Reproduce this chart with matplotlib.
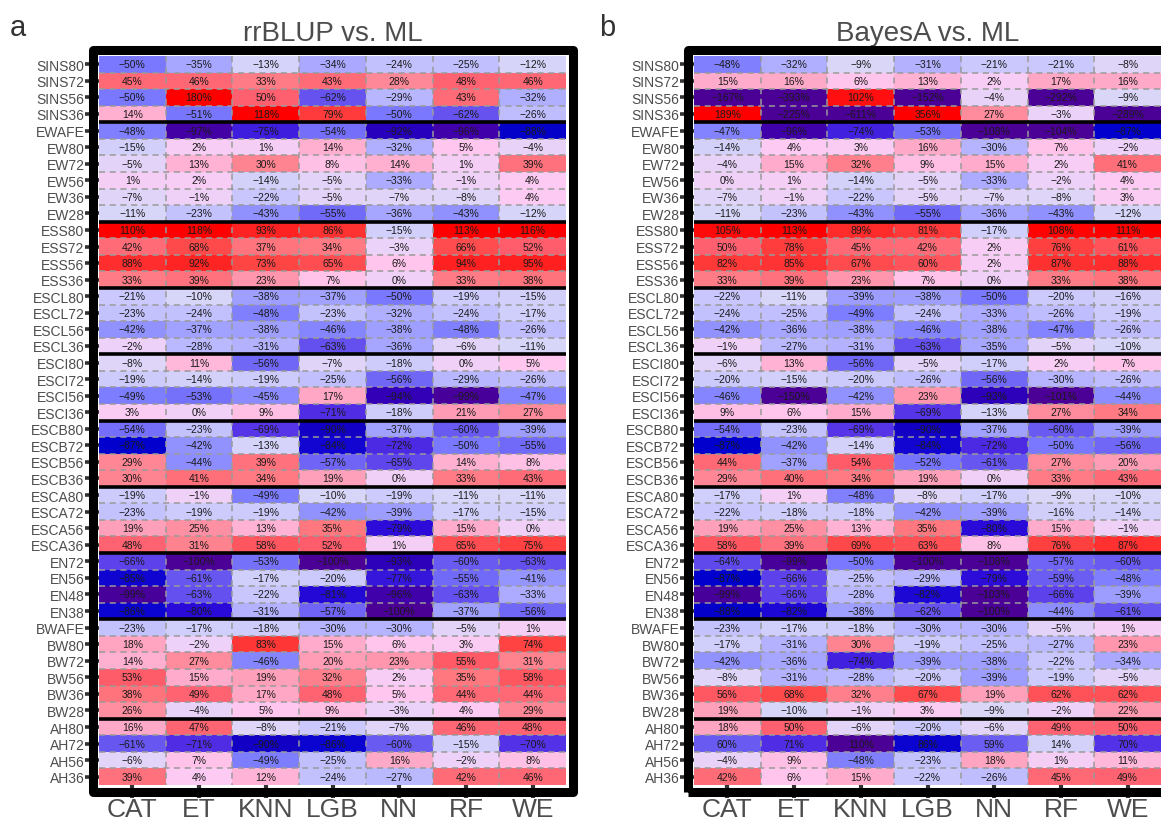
import re
import numpy as np
import matplotlib
matplotlib.use('Agg')
import matplotlib.pyplot as plt
from matplotlib.colors import LinearSegmentedColormap, Normalize
from matplotlib.patches import Rectangle

plt.rcParams['font.family'] = ['Liberation Sans', 'DejaVu Sans']

models = ['CAT', 'ET', 'KNN', 'LGB', 'NN', 'RF', 'WE']
traits = ['SINS80', 'SINS72', 'SINS56', 'SINS36', 'EWAFE', 'EW80', 'EW72', 'EW56', 'EW36', 'EW28',
          'ESS80', 'ESS72', 'ESS56', 'ESS36', 'ESCL80', 'ESCL72', 'ESCL56', 'ESCL36',
          'ESCI80', 'ESCI72', 'ESCI56', 'ESCI36', 'ESCB80', 'ESCB72', 'ESCB56', 'ESCB36',
          'ESCA80', 'ESCA72', 'ESCA56', 'ESCA36', 'EN72', 'EN56', 'EN48', 'EN38',
          'BWAFE', 'BW80', 'BW72', 'BW56', 'BW36', 'BW28', 'AH80', 'AH72', 'AH56', 'AH36']

# % change, rrBLUP vs ML (rows = traits, cols = models)
rrblup = [
    [-50, -35, -13, -34, -24, -25, -12],
    [45, 46, 33, 43, 28, 48, 46],
    [-50, 180, 50, -62, -29, 43, -32],
    [14, -51, 118, 79, -50, -62, -26],
    [-48, -97, -75, -54, -92, -96, -88],
    [-15, 2, 1, 14, -32, 5, -4],
    [-5, 13, 30, 8, 14, 1, 39],
    [1, 2, -14, -5, -33, -1, 4],
    [-7, -1, -22, -5, -7, -8, 4],
    [-11, -23, -43, -55, -36, -43, -12],
    [110, 118, 93, 86, -15, 113, 116],
    [42, 68, 37, 34, -3, 66, 52],
    [88, 92, 73, 65, 6, 94, 95],
    [33, 39, 23, 7, 0, 33, 38],
    [-21, -10, -38, -37, -50, -19, -15],
    [-23, -24, -48, -23, -32, -24, -17],
    [-42, -37, -38, -46, -38, -48, -26],
    [-2, -28, -31, -63, -36, -6, -11],
    [-8, 11, -56, -7, -18, 0, 5],
    [-19, -14, -19, -25, -56, -29, -26],
    [-49, -53, -45, 17, -94, -99, -47],
    [3, 0, 9, -71, -18, 21, 27],
    [-54, -23, -69, -90, -37, -60, -39],
    [-87, -42, -13, -84, -72, -50, -55],
    [29, -44, 39, -57, -65, 14, 8],
    [30, 41, 34, 19, 0, 33, 43],
    [-19, -1, -49, -10, -19, -11, -11],
    [-23, -19, -19, -42, -39, -17, -15],
    [19, 25, 13, 35, -79, 15, 0],
    [48, 31, 58, 52, 1, 65, 75],
    [-66, -100, -53, -100, -93, -60, -63],
    [-85, -61, -17, -20, -77, -55, -41],
    [-99, -63, -22, -81, -96, -63, -33],
    [-86, -80, -31, -57, -100, -37, -56],
    [-23, -17, -18, -30, -30, -5, 1],
    [18, -2, 83, 15, 6, 3, 74],
    [14, 27, -46, 20, 23, 55, 31],
    [53, 15, 19, 32, 2, 35, 58],
    [38, 49, 17, 48, 5, 44, 44],
    [26, -4, 5, 9, -3, 4, 29],
    [16, 47, -8, -21, -7, 46, 48],
    [-61, -71, -90, -86, -60, -15, -70],
    [-6, 7, -49, -25, 16, -2, 8],
    [39, 4, 12, -24, -27, 42, 46],
]

# % change, BayesA vs ML
bayesa = [
    [-48, -32, -9, -31, -21, -21, -8],
    [15, 16, 6, 13, 2, 17, 16],
    [-167, -393, 102, -152, -4, -292, -9],
    [189, -225, -611, 356, 27, -3, -289],
    [-47, -96, -74, -53, -108, -104, -87],
    [-14, 4, 3, 16, -30, 7, -2],
    [-4, 15, 32, 9, 15, 2, 41],
    [0, 1, -14, -5, -33, -2, 4],
    [-7, -1, -22, -5, -7, -8, 3],
    [-11, -23, -43, -55, -36, -43, -12],
    [105, 113, 89, 81, -17, 108, 111],
    [50, 78, 45, 42, 2, 76, 61],
    [82, 85, 67, 60, 2, 87, 88],
    [33, 39, 23, 7, 0, 33, 38],
    [-22, -11, -39, -38, -50, -20, -16],
    [-24, -25, -49, -24, -33, -26, -19],
    [-42, -36, -38, -46, -38, -47, -26],
    [-1, -27, -31, -63, -35, -5, -10],
    [-6, 13, -56, -5, -17, 2, 7],
    [-20, -15, -20, -26, -56, -30, -26],
    [-46, -150, -42, 23, -93, -101, -44],
    [9, 6, 15, -69, -13, 27, 34],
    [-54, -23, -69, -90, -37, -60, -39],
    [-87, -42, -14, -84, -72, -50, -56],
    [44, -37, 54, -52, -61, 27, 20],
    [29, 40, 34, 19, 0, 33, 43],
    [-17, 1, -48, -8, -17, -9, -10],
    [-22, -18, -18, -42, -39, -16, -14],
    [19, 25, 13, 35, -80, 15, -1],
    [58, 39, 69, 63, 8, 76, 87],
    [-64, -99, -50, -100, -108, -57, -60],
    [-87, -66, -25, -29, -79, -59, -48],
    [-99, -66, -28, -82, -103, -66, -39],
    [-88, -82, -38, -62, -100, -44, -61],
    [-23, -17, -18, -30, -30, -5, 1],
    [-17, -31, 30, -19, -25, -27, 23],
    [-42, -36, -74, -39, -38, -22, -34],
    [-8, -31, -28, -20, -39, -19, -5],
    [56, 68, 32, 67, 19, 62, 62],
    [19, -10, -1, 3, -9, -2, 22],
    [18, 50, -6, -20, -6, 49, 50],
    [-60, -71, -110, -86, -59, -14, -70],
    [-4, 9, -48, -23, 18, 1, 11],
    [42, 6, 15, -22, -26, 45, 49],
]
# in panel b this row is printed without the minus sign (as in the source figure)
unsigned_rows_b = ['AH72']

# diverging palette: value -> colour
cnodes = [(-100, '#4b0096'), (-95, '#3a00b4'), (-88, '#0000cc'), (-80, '#2a0ad8'),
          (-70, '#5532e6'), (-60, '#6a5cf2'), (-50, '#7a7aff'), (-40, '#9a9aff'),
          (-30, '#b6b4ff'), (-20, '#cccafc'), (-10, '#d8d6f8'), (0, '#f2d0f8'),
          (5, '#ffc8f0'), (15, '#ffaccc'), (25, '#ff90a4'), (35, '#ff7880'),
          (50, '#ff6070'), (70, '#ff4848'), (85, '#ff3434'), (110, '#ff0000')]
vmin, vmax = cnodes[0][0], cnodes[-1][0]
cmap = LinearSegmentedColormap.from_list(
    'pct', [((v - vmin) / (vmax - vmin), c) for v, c in cnodes])
norm = Normalize(vmin=vmin, vmax=vmax, clip=True)

groups = [re.sub(r'(\d+|AFE)$', '', t) for t in traits]
breaks = [i for i in range(1, len(traits)) if groups[i] != groups[i - 1]]

W, H = 1161, 829
fig = plt.figure(figsize=(W / 100, H / 100), dpi=100)


def draw_panel(left_px, data, title, letter, letter_x, unsigned_rows=()):
    top_px, bot_px, width_px = 57, 786, 467
    ax = fig.add_axes([left_px / W, 1 - bot_px / H, width_px / W, (bot_px - top_px) / H])
    vals = np.array(data, dtype=float)
    nr, nc = vals.shape
    ax.pcolormesh(np.arange(nc + 1), np.arange(nr + 1), vals, cmap=cmap, norm=norm)
    ax.set_xlim(0, nc)
    ax.set_ylim(nr, 0)
    for i in range(nr):
        for j in range(nc):
            v = int(vals[i, j])
            if traits[i] in unsigned_rows:
                v = abs(v)
            txt = f'{v}%'.replace('-', '\u2212')
            ax.text(j + 0.5, i + 0.5, txt, ha='center', va='center',
                    fontsize=7.5, color='#1a1a1a')
    ax.hlines(np.arange(1, nr), 0, nc, colors='#9a9a9a', linestyles=(0, (4, 3)), linewidth=1.1)
    ax.vlines(np.arange(1, nc), 0, nr, colors='#9a9a9a', linestyles=(0, (4, 3)), linewidth=1.1)
    ax.hlines(breaks, 0, nc, colors='black', linewidth=2.6)
    ax.set_xticks(np.arange(nc) + 0.5, models)
    ax.set_yticks(np.arange(nr) + 0.5, traits)
    for s in ax.spines.values():
        s.set_visible(False)
    ax.tick_params(axis='y', length=10, width=2.6, color='#333333', pad=0.5,
                   labelsize=10, labelcolor='#4d4d4d')
    ax.tick_params(axis='x', length=9, width=3, color='#333333', pad=-0.5,
                   labelsize=19, labelcolor='#4d4d4d')

    # thick outer frame
    pad = 6.5
    fig.patches.append(Rectangle(((left_px - pad) / W, 1 - (bot_px + pad) / H),
                                 (width_px + 2 * pad) / W, (bot_px - top_px + 2 * pad) / H,
                                 transform=fig.transFigure, fill=False, edgecolor='black',
                                 linewidth=6.5, joinstyle='round', zorder=5))
    fig.text((left_px + width_px / 2) / W, 1 - 41 / H, title, ha='center', va='baseline',
             fontsize=20, color='#4d4d4d')
    fig.text(letter_x / W, 1 - 36 / H, letter, ha='center', va='baseline',
             fontsize=21, color='#333333')


draw_panel(99, rrblup, 'rrBLUP vs. ML', 'a', 18)
draw_panel(694, bayesa, 'BayesA vs. ML', 'b', 607, unsigned_rows_b)

fig.savefig('out.png', dpi=100)
